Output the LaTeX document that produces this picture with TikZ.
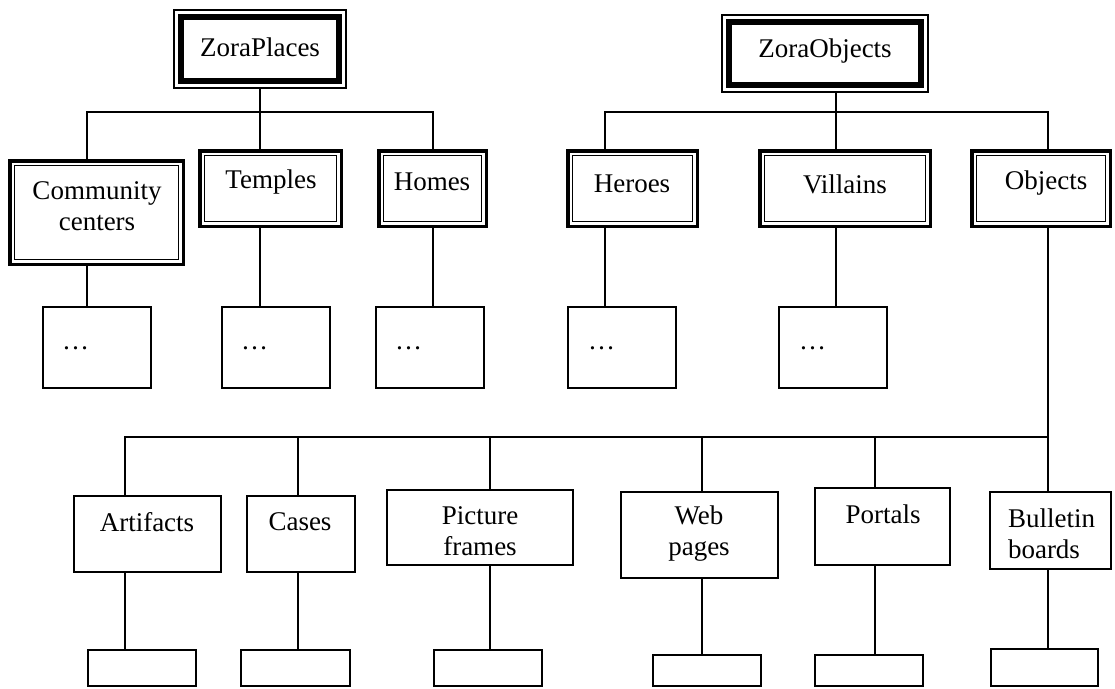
\documentclass[tikz,border=0pt]{standalone}
\usepackage{fontspec}
\setmainfont{Liberation Serif}
\begin{document}
\begin{tikzpicture}[x=1pt,y=-1pt,
  every node/.style={inner sep=0pt,outer sep=0pt},
  lbl/.style={font=\fontsize{27}{31}\selectfont,align=center},
  lbll/.style={font=\fontsize{27}{31}\selectfont,align=left,anchor=west},
  conn/.style={line width=2pt},
  rootbox/.style={draw,rectangle,line width=2pt},
  dblbox/.style={draw,rectangle,line width=3.5pt},
  plainbox/.style={draw,rectangle,line width=2pt},
  ]
\newcommand\innerframe[3]{\draw[line width=#3] ([xshift=#2,yshift=-#2]#1.north west) rectangle ([xshift=-#2,yshift=#2]#1.south east);}
\useasboundingbox (0,0) rectangle (1115,688);

% column coordinates
\coordinate (cA) at (87,0);   \coordinate (cB) at (260,0);  \coordinate (cC) at (433,0);
\coordinate (cD) at (605,0);  \coordinate (cE) at (836,0);  \coordinate (cF) at (1048,0);
\coordinate (c1) at (125,0);  \coordinate (c2) at (298,0);  \coordinate (c3) at (490,0);
\coordinate (c4) at (702,0);  \coordinate (c5) at (875,0);
\coordinate (busA) at (260,112);
\coordinate (busB) at (836,112);
\coordinate (busC) at (1048,437);

% root boxes
\node[rootbox,minimum width=172,minimum height=78] (zp) at (260,49) {};
\innerframe{zp}{7}{6.7pt}
\node[lbl] (zpt) at (260,47) {ZoraPlaces};
\node[rootbox,minimum width=206,minimum height=77] (zo) at (825,53.5) {};
\innerframe{zo}{7}{6.7pt}
\node[lbl] (zot) at (825,51) {ZoraObjects};

% level 1
\node[dblbox,minimum width=173.5,minimum height=103.5] (cc) at (96.5,212.5) {};
\innerframe{cc}{4.75}{1.8pt}
\node[lbl] (cct) at (97,206) {Community\\centers};
\node[dblbox,minimum width=141.5,minimum height=75.5] (tp) at (270.5,188.5) {};
\innerframe{tp}{4.75}{1.8pt}
\node[lbl] (tpt) at (271,182) {Temples};
\node[dblbox,minimum width=107.5,minimum height=75.5] (hm) at (432.5,188.5) {};
\innerframe{hm}{4.75}{1.8pt}
\node[lbl] (hmt) at (432,182) {Homes};
\node[dblbox,minimum width=129.5,minimum height=75.5] (he) at (632.5,188.5) {};
\innerframe{he}{4.75}{1.8pt}
\node[lbl] (het) at (632,184) {Heroes};
\node[dblbox,minimum width=170.5,minimum height=75.5] (vi) at (845,188.5) {};
\innerframe{vi}{4.75}{1.8pt}
\node[lbl] (vit) at (845,184) {Villains};
\node[dblbox,minimum width=138.5,minimum height=75.5] (ob) at (1041,188.5) {};
\innerframe{ob}{4.75}{1.8pt}
\node[lbl] (obt) at (1046,183) {Objects};

% level 2
\node[plainbox,minimum width=108,minimum height=81] (cc1) at (97,347.5) {};
\node[lbll] (cc1t) at (62,348) {…};
\node[plainbox,minimum width=108,minimum height=81] (tp1) at (276,347.5) {};
\node[lbll] (tp1t) at (241,348) {…};
\node[plainbox,minimum width=108,minimum height=81] (hm1) at (430,347.5) {};
\node[lbll] (hm1t) at (395,348) {…};
\node[plainbox,minimum width=108,minimum height=81] (he1) at (622,347.5) {};
\node[lbll] (he1t) at (588,348) {…};
\node[plainbox,minimum width=108,minimum height=81] (vi1) at (833,347.5) {};
\node[lbll] (vi1t) at (799,348) {…};

% level 3
\node[plainbox,minimum width=147,minimum height=76] (ar) at (147.5,534) {};
\node[lbl] (art) at (147,522) {Artifacts};
\node[plainbox,minimum width=108,minimum height=76] (ca) at (301,534) {};
\node[lbl] (cat) at (300,522) {Cases};
\node[plainbox,minimum width=186,minimum height=75] (pf) at (480,527.5) {};
\node[lbl] (pft) at (480,531) {Picture\\frames};
\node[plainbox,minimum width=157,minimum height=86] (wp) at (699.5,535) {};
\node[lbl] (wpt) at (699,534) {Web\\pages};
\node[plainbox,minimum width=135,minimum height=77] (po) at (882.5,526.5) {};
\node[lbl] (pot) at (883,514) {Portals};
\node[plainbox,minimum width=121,minimum height=77] (bb) at (1050.5,530.5) {};
\node[lbll] (bbt) at (1008,534) {Bulletin\\boards};

% level 4
\node[plainbox,minimum width=108,minimum height=36] (ar1) at (142,668) {};
\node[plainbox,minimum width=109,minimum height=36] (ca1) at (295.5,668) {};
\node[plainbox,minimum width=108,minimum height=36] (pf1) at (488,668) {};
\node[plainbox,minimum width=108,minimum height=31] (wp1) at (707,670.5) {};
\node[plainbox,minimum width=108,minimum height=31] (po1) at (869,670.5) {};
\node[plainbox,minimum width=107,minimum height=37] (bb1) at (1044.5,667.5) {};

% connectors, left tree
\draw[conn] (zp.south) -- (busA);
\draw[conn] (cc.north -| cA) -- (busA -| cA) -- (busA -| cC) -- (hm.north -| cC);
\draw[conn] (busA) -- (tp.north -| busA);
\draw[conn] (cc.south -| cA) -- (cc1.north -| cA);
\draw[conn] (tp.south -| cB) -- (tp1.north -| cB);
\draw[conn] (hm.south -| cC) -- (hm1.north -| cC);

% connectors, right tree
\draw[conn] (zo.south -| busB) -- (busB);
\draw[conn] (he.north -| cD) -- (busB -| cD) -- (busB -| cF) -- (ob.north -| cF);
\draw[conn] (busB) -- (vi.north -| busB);
\draw[conn] (he.south -| cD) -- (he1.north -| cD);
\draw[conn] (vi.south -| cE) -- (vi1.north -| cE);
\draw[conn] (ob.south -| cF) -- (bb.north -| cF);

% objects bus
\draw[conn] (ar.north -| c1) -- (busC -| c1) -- (busC);
\draw[conn] (busC -| c2) -- (ca.north -| c2);
\draw[conn] (busC -| c3) -- (pf.north -| c3);
\draw[conn] (busC -| c4) -- (wp.north -| c4);
\draw[conn] (busC -| c5) -- (po.north -| c5);

% level 3 to 4
\draw[conn] (ar.south -| c1) -- (ar1.north -| c1);
\draw[conn] (ca.south -| c2) -- (ca1.north -| c2);
\draw[conn] (pf.south -| c3) -- (pf1.north -| c3);
\draw[conn] (wp.south -| c4) -- (wp1.north -| c4);
\draw[conn] (po.south -| c5) -- (po1.north -| c5);
\draw[conn] (bb.south -| cF) -- (bb1.north -| cF);
\end{tikzpicture}
\end{document}
